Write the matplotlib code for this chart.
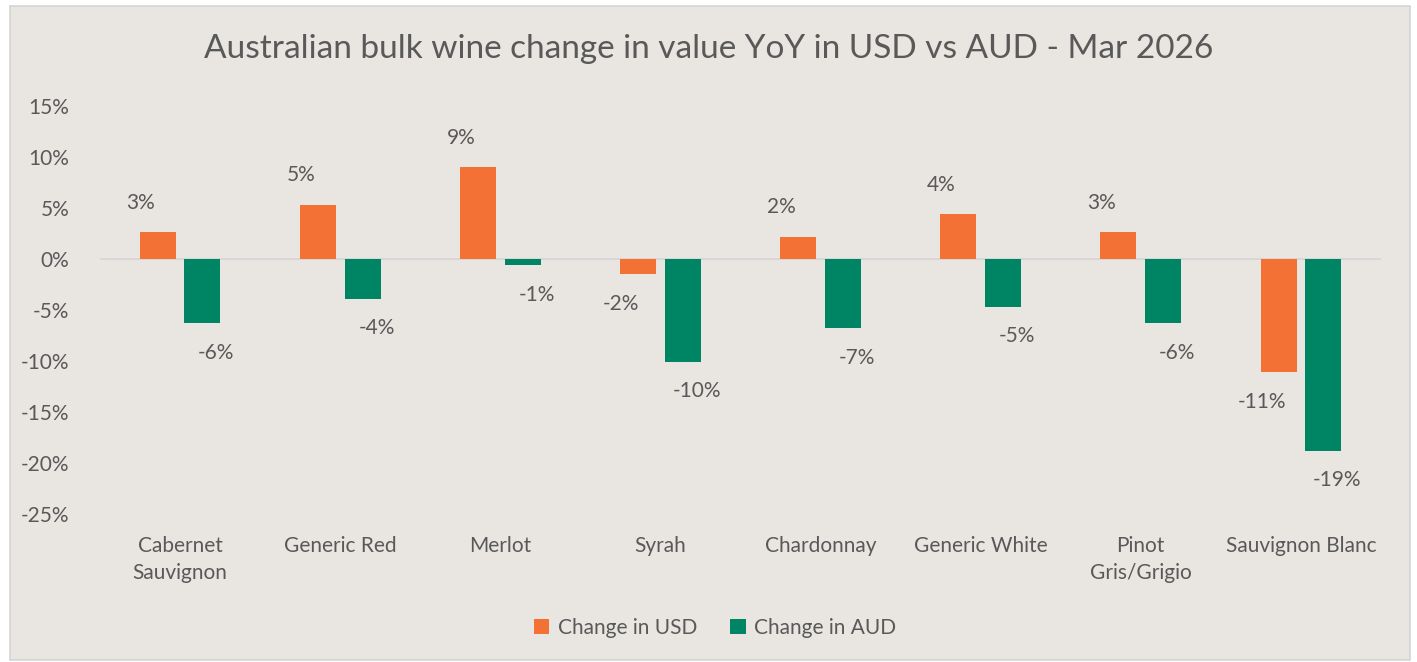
import numpy as np
import matplotlib.pyplot as plt
from matplotlib.patches import Rectangle

plt.rcParams['font.family'] = ['Lato', 'DejaVu Sans']

# Data
categories = ["Cabernet\nSauvignon", "Generic Red", "Merlot", "Syrah",
              "Chardonnay", "Generic White", "Pinot\nGris/Grigio", "Sauvignon Blanc"]
usd = [2.65, 5.3, 9.0, -1.5, 2.2, 4.4, 2.6, -11.1]
aud = [-6.3, -3.9, -0.6, -10.1, -6.8, -4.7, -6.3, -18.8]
usd_labels = ["3%", "5%", "9%", "-2%", "2%", "4%", "3%", "-11%"]
aud_labels = ["-6%", "-4%", "-1%", "-10%", "-7%", "-5%", "-6%", "-19%"]
yticks = [15, 10, 5, 0, -5, -10, -15, -20, -25]

bg = '#E9E6E2'
txt = '#595959'
orange = '#F47135'
green = '#008564'

fig = plt.figure(figsize=(14.17, 6.62), dpi=100, facecolor='white')
fig.patches.append(Rectangle((10 / 1417, 2 / 662), 1400 / 1417, 654 / 662,
                             transform=fig.transFigure, facecolor=bg,
                             edgecolor='#D4D4D4', linewidth=1.2, zorder=-5))

ax = fig.add_axes([100 / 1417, 1 - 514 / 662, 1281 / 1417, 408 / 662])
ax.set_facecolor('none')

x = np.arange(len(categories))
w = 0.225
off = 0.14
b1 = ax.bar(x - off, usd, w, color=orange, label='Change in USD', zorder=3)
b2 = ax.bar(x + off, aud, w, color=green, label='Change in AUD', zorder=3)

# value labels, nudged outward like the original
for i in range(len(x)):
    for bars, vals, labs, dx in ((b1, usd, usd_labels, -12), (b2, aud, aud_labels, 10)):
        v = vals[i]
        r = bars[i]
        ax.annotate(labs[i], (r.get_x() + r.get_width() / 2, v),
                    xytext=(dx, 14 if v >= 0 else -14), textcoords='offset points',
                    ha='center', va='bottom' if v >= 0 else 'top',
                    fontsize=15, color=txt)

ax.axhline(0, color='#D6D6D6', linewidth=1.3, zorder=2)
ax.set_xlim(-0.5, len(categories) - 0.5)
ax.set_ylim(-25, 15)
ax.set_yticks(yticks)
ax.set_yticklabels([f"{t}%" for t in yticks], fontsize=15, color=txt)
ax.set_xticks(x)
ax.set_xticklabels(categories, fontsize=15, color=txt, linespacing=1.4)
ax.tick_params(axis='y', length=0, pad=22)
ax.tick_params(axis='x', length=0, pad=16)
for s in ax.spines.values():
    s.set_visible(False)

fig.text(0.5, 1 - 49 / 662, "Australian bulk wine change in value YoY in USD vs AUD - Mar 2026",
         ha='center', va='center', fontsize=24, color=txt)

fig.legend(handles=[b1, b2], loc='center', bbox_to_anchor=(715 / 1417, 1 - 628 / 662),
           ncol=2, frameon=False, fontsize=15, labelcolor=txt,
           handlelength=0.75, handleheight=0.75, handletextpad=0.4, columnspacing=1.6)

fig.savefig('out.png', dpi=100, facecolor='white')
